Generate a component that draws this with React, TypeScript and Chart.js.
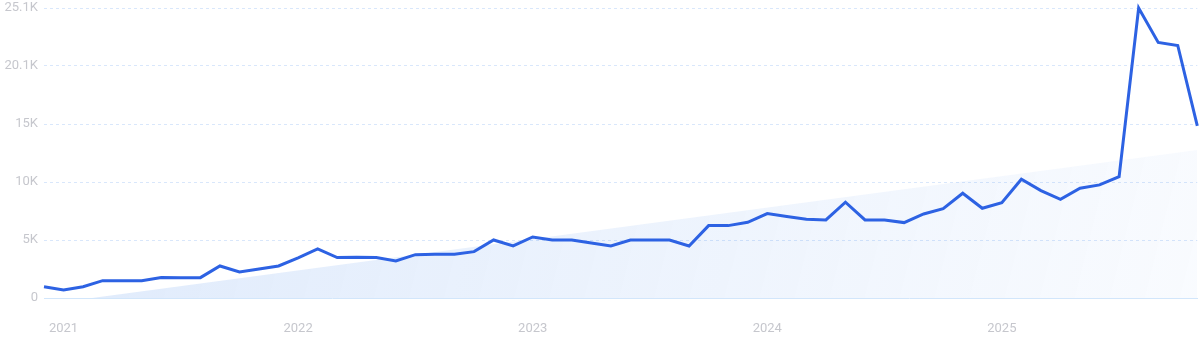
import React, { useEffect, useRef } from 'react';
import { Chart, registerables } from 'chart.js';

Chart.register(...registerables);

// Monthly values, Dec 2020 .. Nov 2025 (60 months)
const values: number[] = [
  980, 700, 980, 1500, 1500, 1500, 1780, 1760, 1760, 2770,
  2250, 2510, 2770, 3480, 4240, 3500, 3520, 3500, 3200, 3750,
  3780, 3780, 4010, 5020, 4500, 5280, 5020, 5020, 4750, 4500,
  5020, 5020, 5020, 4500, 6260, 6260, 6550, 7300, 7040, 6810,
  6750, 8280, 6750, 6750, 6520, 7270, 7730, 9060, 7760, 8250,
  10270, 9290, 8540, 9490, 9780, 10500, 25080, 22100, 21840, 14890,
];

const yearTickIndex: number[] = [1, 13, 25, 37, 49];
const yearTickLabels: string[] = ['2021', '2022', '2023', '2024', '2025'];

const yTickValues: number[] = [0, 5016, 10032, 15048, 20064, 25080];
const yTickLabels: string[] = ['0', '5K', '10K', '15K', '20.1K', '25.1K'];

const trendIndex: number[] = [0, 2.46, 59];
const trendValues: number[] = [0, 0, 12800];

const LABEL_COLOR = '#c6c7cd';
const FONT = 'Roboto';

export default function App() {
  const ref = useRef<HTMLCanvasElement>(null);

  useEffect(() => {
    document.body.style.margin = '0';
    const canvas = ref.current;
    if (!canvas) return;
    const chart = new Chart(canvas, {
      type: 'line',
      data: {
        datasets: [
          {
            data: values.map((v, i) => ({ x: i, y: v })),
            borderColor: '#2d62e3',
            borderWidth: 3,
            pointRadius: 0,
            tension: 0,
            fill: false,
            order: 1,
            clip: false as any,
          },
          {
            data: trendIndex.map((x, i) => ({ x, y: trendValues[i] })),
            borderWidth: 0,
            borderColor: 'rgba(0,0,0,0)',
            pointRadius: 0,
            tension: 0,
            fill: 'origin',
            order: 2,
            backgroundColor: (c: any) => {
              const a = c.chart.chartArea;
              if (!a) return 'rgba(60,130,235,0.12)';
              const g = c.chart.ctx.createLinearGradient(a.left, a.top, a.right, a.bottom);
              g.addColorStop(0, 'rgba(60,130,235,0.17)');
              g.addColorStop(1, 'rgba(60,130,235,0.03)');
              return g;
            },
          },
        ],
      },
      options: {
        animation: false,
        responsive: false,
        layout: { padding: { left: 0, right: 2.7, top: 8, bottom: 0 } },
        plugins: { legend: { display: false }, tooltip: { enabled: false } },
        scales: {
          x: {
            type: 'linear',
            min: 0,
            max: 59,
            afterBuildTicks: (s: any) => {
              s.ticks = yearTickIndex.map((v) => ({ value: v }));
            },
            afterFit: (s: any) => {
              s.height = 45;
              s.paddingLeft = 0;
              s.paddingRight = 0;
            },
            ticks: {
              autoSkip: false,
              maxRotation: 0,
              padding: 23,
              color: LABEL_COLOR,
              font: { family: FONT, size: 13 },
              callback: (v: any) => {
                const k = yearTickIndex.indexOf(Number(v));
                return k >= 0 ? yearTickLabels[k] : '';
              },
            },
            grid: { display: false, drawTicks: false },
            border: { display: true, color: '#d2e6fb', width: 1 },
          },
          y: {
            min: 0,
            max: 25080,
            afterBuildTicks: (s: any) => {
              s.ticks = yTickValues.map((v) => ({ value: v }));
            },
            afterFit: (s: any) => {
              s.width = 44;
              s.paddingTop = 0;
              s.paddingBottom = 0;
            },
            ticks: {
              padding: 6,
              color: LABEL_COLOR,
              font: { family: FONT, size: 13 },
              callback: (v: any) => {
                const k = yTickValues.indexOf(Number(v));
                return k >= 0 ? yTickLabels[k] : '';
              },
            },
            grid: {
              drawTicks: false,
              color: (c: any) => (c.tick && c.tick.value === 0 ? 'rgba(0,0,0,0)' : '#d9e7fb'),
              lineWidth: 1,
            },
            border: { display: false, dash: [3, 3] },
          },
        },
      },
    });
    return () => chart.destroy();
  }, []);

  return (
    <div style={{ width: 1200, height: 343 }}>
      <canvas ref={ref} width={1200} height={343} style={{ display: 'block' }} />
    </div>
  );
}
